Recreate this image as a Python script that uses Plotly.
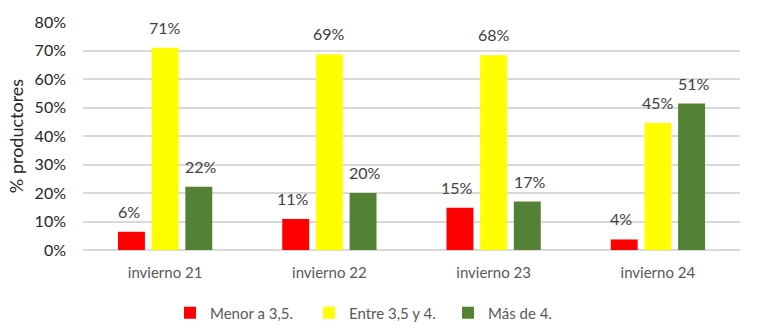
import plotly.graph_objects as go

categories = ["invierno 21", "invierno 22", "invierno 23", "invierno 24"]
series_names = ["Menor a 3,5.", "Entre 3,5 y 4.", "Más de 4."]
menor = [0.064, 0.109, 0.148, 0.037]
entre = [0.710, 0.686, 0.683, 0.446]
mas = [0.222, 0.200, 0.170, 0.514]
colors = ["#FF0000", "#FFFF00", "#548235"]

FONT = "Lato"
fig = go.Figure()
all_vals = [menor, entre, mas]
for name, vals, col in zip(series_names, all_vals, colors):
    fig.add_trace(go.Bar(x=categories, y=vals, name=name, marker_color=col,
                         marker_line_width=0))

shifts = [-36.5, 0, 36]
for vals, xs in zip(all_vals, shifts):
    for c, v in zip(categories, vals):
        fig.add_annotation(x=c, y=v, text=f"{round(v*100)}%", showarrow=False,
                           xshift=xs, yshift=9, yanchor="bottom",
                           font=dict(family=FONT, size=16, color="#404040"))

fig.update_layout(
    width=757, height=334,
    margin=dict(l=83, r=17, t=14, b=84),
    paper_bgcolor="white", plot_bgcolor="white",
    barmode="group", bargap=0.385, bargroupgap=0.2,
    font=dict(family=FONT, color="#404040"),
    legend=dict(orientation="h", xref="container", yref="container",
                x=0.5, xanchor="center", y=0.063, yanchor="middle",
                font=dict(family=FONT, size=15, color="#595959"),
                itemwidth=30, traceorder="normal", entrywidth=94,
                entrywidthmode="pixels"),
    showlegend=True,
)
fig.update_yaxes(range=[0, 0.8], dtick=0.1, tickformat=".0%",
                 gridcolor="#D9D9D9", gridwidth=1.5, zeroline=True,
                 zerolinecolor="#D9D9D9", zerolinewidth=1.5,
                 showline=False, ticklabelstandoff=16,
                 tickfont=dict(family=FONT, size=16, color="#262626"),
                 title=dict(text="% productores", standoff=6,
                            font=dict(family=FONT, size=18, color="#262626")))
fig.update_xaxes(showline=False, ticks="outside", ticklen=9,
                 tickcolor="rgba(0,0,0,0)",
                 tickfont=dict(family=FONT, size=15, color="#595959"))

fig.write_html("out.html")
